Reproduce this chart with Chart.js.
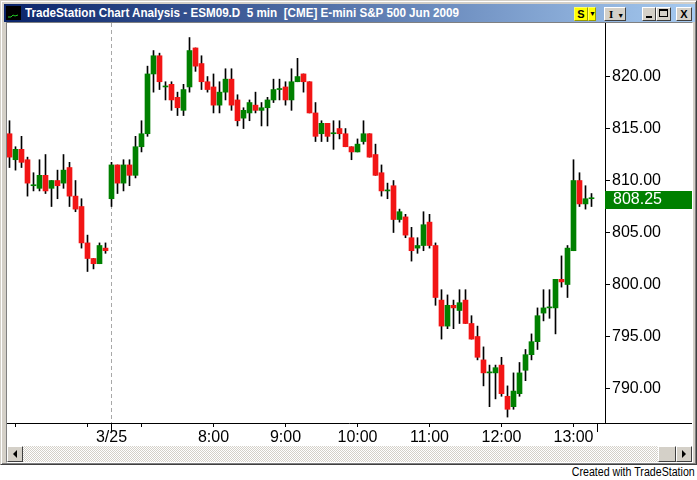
<!DOCTYPE html>
<html>
<head>
<meta charset="utf-8">
<script src="https://cdn.jsdelivr.net/npm/chart.js@4.4.1/dist/chart.umd.min.js"></script>
<style>
html, body { margin: 0; padding: 0; background: #fff; }
body { width: 697px; height: 480px; position: relative; overflow: hidden; font-family: "Liberation Sans", Arial, sans-serif; }
#win { position: absolute; left: 0; top: 0; width: 697px; height: 465px; box-sizing: border-box; background: #d4d0c8;
  border-top: 1px solid #d4d0c8; border-left: 1px solid #d4d0c8; border-right: 1px solid #404040; border-bottom: 1px solid #404040;
  box-shadow: inset 1px 1px 0 #fff, inset -1px -1px 0 #808080; }
#title { position: absolute; left: 3px; top: 3px; width: 691px; height: 18px; background: linear-gradient(to right, #0a246a, #a6caf0); }
#icon { position: absolute; left: 2px; top: 2px; width: 15px; height: 14px; background: #000; }
#ttext { position: absolute; left: 21px; top: 0; line-height: 18px; font-size: 12px; font-weight: bold; color: #fff; white-space: pre; transform-origin: left center; }
.btn { position: absolute; top: 6px; height: 14px; box-sizing: border-box; background: #d4d0c8;
  border-top: 1px solid #fff; border-left: 1px solid #fff; border-right: 1px solid #404040; border-bottom: 1px solid #404040;
  font-size: 11px; font-weight: bold; line-height: 12px; color: #000; text-align: center; }
#client { position: absolute; left: 5px; top: 21px; width: 687px; height: 441px; box-sizing: border-box; background: #fff;
  border-top: 1px solid #808080; border-left: 1px solid #808080; border-right: 1px solid #fff; border-bottom: 1px solid #fff; }
#chart { position: absolute; left: 0; top: 0; }
#scroll { position: absolute; left: 0; top: 423px; width: 685px; height: 16px;
  background-image: repeating-conic-gradient(#d4d0c8 0 25%, #fff 0 50%); background-size: 2px 2px; }
.sb { position: absolute; top: 0; height: 16px; box-sizing: border-box; background: #d4d0c8;
  border-top: 1px solid #fff; border-left: 1px solid #fff; border-right: 1px solid #404040; border-bottom: 1px solid #404040; }
#foot { position: absolute; right: 2px; top: 465px; font-size: 12px; line-height: 14px; color: #000; white-space: pre;
  font-family: "Liberation Sans Narrow", "Liberation Sans", Arial, sans-serif; transform-origin: right center; }
</style>
</head>
<body>
<div id="win">
  <div id="title">
    <div id="icon"><svg width="15" height="14"><polyline points="2,11 5,11 7,9 9,10 12,9" fill="none" stroke="#2c2" stroke-width="1"/></svg></div>
    <div id="ttext">TradeStation Chart Analysis - ESM09.D  5 min  [CME] E-mini S&amp;P 500 Jun 2009</div>
  </div>
  <div class="btn" style="left:573px;width:14px;background:#ffff00;border-color:#ffff66 #999900 #999900 #ffff66;">S</div>
  <div class="btn" style="left:587px;width:8px;background:#ffff00;border-color:#ffff66 #999900 #999900 #ffff66;font-size:7px;">&#9660;</div>
  <div class="btn" style="left:603px;width:22px;text-align:left;padding-left:4px;font-family:'Liberation Serif',serif;">I<span style="font-size:7px;margin-left:4px;">&#9660;</span></div>
  <div class="btn" style="left:641px;width:14px;"><div style="position:absolute;left:3px;top:8px;width:6px;height:2px;background:#000;"></div></div>
  <div class="btn" style="left:655px;width:15px;"><div style="position:absolute;left:2px;top:1px;width:9px;height:8px;box-sizing:border-box;border:1px solid #000;border-top-width:2px;"></div></div>
  <div class="btn" style="left:675px;width:16px;font-size:11px;">X</div>
  <div id="client">
    <canvas id="chart" width="685" height="423"></canvas>
    <div id="scroll">
      <div class="sb" style="left:0;width:16px;"><svg width="14" height="14" style="position:absolute;left:0;top:0"><polygon points="5,7 9,3 9,11" fill="#000"/></svg></div>
      <div class="sb" style="left:651px;width:18px;"></div>
      <div class="sb" style="left:669px;width:16px;"><svg width="14" height="14" style="position:absolute;left:0;top:0"><polygon points="9,7 5,3 5,11" fill="#000"/></svg></div>
    </div>
  </div>
</div>
<div id="foot">Created with TradeStation</div>
<script>
// 5 min bars of ESM09: prior session 11:55-13:15, then 3/25 from 6:35 to 13:15
var opens = [814.5, 812.0, 813.0, 812.0, 809.5, 809.25, 810.5, 809.25, 810.0, 809.75,
  811.25, 808.5, 807.5, 804.0, 802.5, 802.0, 803.5, 808.25, 811.5, 809.75,
  811.5, 810.5, 813.25, 814.5, 820.25, 822.0, 819.0, 819.25, 818.0, 816.75,
  819.0, 822.75, 821.25, 819.5, 819.0, 817.25, 818.5, 819.75, 817.75, 816.0,
  816.5, 817.25, 816.75, 817.0, 817.75, 818.75, 819.0, 817.75, 819.5, 820.25,
  819.5, 816.5, 814.5, 815.5, 814.5, 815.0, 814.5, 813.25, 812.75, 813.75,
  814.5, 812.5, 810.75, 809.0, 809.5, 806.25, 806.5, 804.5, 803.5, 803.75,
  806.0, 803.75, 798.5, 796.0, 798.0, 797.5, 798.5, 796.25, 795.0, 792.75,
  791.5, 791.5, 792.25, 789.25, 788.25, 789.5, 791.75, 793.25, 794.5, 797.25,
  797.75, 797.75, 800.5, 800.0, 803.25, 810.0, 807.75, 808.25];
var highs = [815.75, 813.25, 814.25, 812.25, 810.75, 812.0, 812.5, 810.0, 811.0, 812.5,
  811.75, 810.0, 808.25, 804.75, 802.5, 804.0, 804.0, 811.75, 811.5, 812.0,
  812.0, 814.25, 815.75, 821.0, 822.5, 822.25, 819.5, 819.5, 818.5, 819.25,
  823.75, 822.75, 822.0, 820.0, 820.25, 819.5, 820.75, 820.75, 818.25, 817.0,
  817.75, 818.5, 817.5, 818.0, 819.75, 819.75, 819.5, 820.75, 821.75, 820.25,
  819.5, 817.5, 815.75, 815.5, 815.75, 815.75, 815.0, 813.25, 814.0, 815.75,
  814.5, 813.5, 811.5, 809.75, 810.0, 807.25, 806.75, 805.5, 804.5, 807.0,
  806.75, 804.0, 799.5, 799.0, 798.5, 799.5, 799.5, 797.0, 796.0, 794.0,
  792.25, 792.25, 793.0, 790.25, 791.5, 792.5, 793.75, 795.25, 797.75, 799.5,
  799.5, 800.5, 802.75, 803.75, 812.0, 810.75, 809.5, 808.75];
var lows = [811.25, 811.0, 811.25, 808.5, 809.0, 809.0, 808.75, 807.5, 808.25, 809.25,
  807.5, 807.0, 803.5, 801.25, 801.5, 802.0, 803.0, 807.5, 808.75, 809.0,
  809.5, 810.25, 812.75, 814.25, 818.5, 818.75, 817.75, 816.75, 816.25, 816.25,
  818.5, 820.5, 818.75, 818.5, 816.5, 816.5, 817.75, 816.75, 815.25, 815.0,
  815.75, 816.5, 815.25, 815.25, 817.5, 817.75, 817.25, 816.75, 819.5, 818.5,
  816.5, 813.75, 813.75, 813.75, 813.0, 814.0, 813.25, 812.0, 812.75, 813.5,
  812.25, 810.5, 808.5, 808.25, 805.0, 806.0, 804.5, 802.25, 803.0, 803.25,
  803.5, 798.0, 794.75, 795.75, 795.75, 796.25, 796.25, 794.75, 792.75, 790.25,
  788.25, 789.0, 789.25, 787.25, 788.0, 789.25, 790.75, 792.75, 793.75, 796.5,
  796.75, 795.25, 799.75, 798.75, 803.25, 807.5, 807.25, 807.5];
var closes = [812.25, 813.0, 811.75, 809.75, 809.5, 810.5, 809.0, 810.0, 809.5, 811.0,
  808.5, 807.25, 804.0, 802.5, 802.0, 803.75, 803.25, 811.5, 809.75, 811.5,
  810.5, 813.25, 814.5, 820.25, 822.0, 819.5, 819.0, 817.75, 817.0, 818.75,
  822.5, 821.0, 819.5, 818.75, 817.25, 818.5, 819.75, 817.25, 815.75, 816.75,
  817.5, 816.75, 817.0, 817.75, 818.75, 818.75, 817.75, 819.5, 820.0, 819.5,
  816.5, 814.25, 815.5, 814.25, 814.5, 814.5, 813.25, 812.75, 813.5, 814.5,
  812.25, 810.5, 809.0, 809.0, 806.25, 807.0, 804.75, 803.25, 803.75, 805.75,
  803.75, 798.75, 796.0, 798.0, 797.75, 798.25, 796.25, 794.75, 793.0, 791.5,
  791.5, 792.0, 789.5, 788.0, 789.75, 791.5, 793.25, 794.5, 797.0, 797.75,
  797.75, 800.5, 800.25, 803.5, 810.0, 807.75, 808.25, 808.25];

var timeTicks = [1, 13, 17, 22, 34, 46, 58, 70, 82, 94, 98];
var timeLabels = ['', '', '3/25', '', '8:00', '9:00', '10:00', '11:00', '12:00', '13:00', ''];
var priceTicks = [790, 795, 800, 805, 810, 815, 820];
var lastPrice = 808.25;
var sessionStart = 17;

var UP = '#008000';
var DOWN = '#f21515';

var bodies = [], wicks = [], colors = [];
for (var i = 0; i < opens.length; i++) {
    bodies.push({x: i, y: [opens[i], closes[i]]});
    wicks.push({x: i, y: [lows[i], highs[i]]});
    colors.push(closes[i] >= opens[i] ? UP : DOWN);
}

var axisFont = {family: "'Liberation Sans', Arial, sans-serif", size: 16};

var extras = {
    id: 'extras',
    beforeDatasetsDraw: function(chart) {
        var c = chart.ctx, a = chart.chartArea;
        var x = Math.floor(chart.scales.x.getPixelForValue(sessionStart)) + 0.5;
        c.save();
        c.strokeStyle = '#a8a8a8';
        c.lineWidth = 1;
        c.setLineDash([4, 3]);
        c.beginPath(); c.moveTo(x, a.top); c.lineTo(x, a.bottom); c.stroke();
        c.restore();
    },
    afterDraw: function(chart) {
        var c = chart.ctx, a = chart.chartArea, sx = chart.scales.x, sy = chart.scales.y;
        c.save();
        // time axis line runs under the price axis too
        c.strokeStyle = '#000';
        c.lineWidth = 1;
        c.beginPath(); c.moveTo(0, a.bottom + 0.5); c.lineTo(chart.width, a.bottom + 0.5); c.stroke();
        // longer ticks at the session break and the last slot
        [sessionStart, 98].forEach(function(b) {
            var x = Math.floor(sx.getPixelForValue(b)) + 0.5;
            c.beginPath(); c.moveTo(x, a.bottom); c.lineTo(x, a.bottom + 9); c.stroke();
        });
        // last price marker
        var y = sy.getPixelForValue(lastPrice);
        c.fillStyle = UP;
        c.fillRect(a.right, Math.round(y) - 8, chart.width - a.right, 18);
        c.fillStyle = '#fff';
        c.font = "16px 'Liberation Sans', Arial, sans-serif";
        c.textBaseline = 'middle';
        c.fillText(lastPrice.toFixed(2), a.right + 8, Math.round(y) + 1);
        c.restore();
    }
};

var ctx = document.getElementById('chart');
var chart = new Chart(ctx, {
    type: 'bar',
    data: {
        datasets: [{
            data: bodies,
            backgroundColor: colors,
            barThickness: 5,
            minBarLength: 1,
            grouped: false,
            order: 0
        }, {
            data: wicks,
            backgroundColor: '#000',
            barThickness: 1,
            grouped: false,
            order: 1
        }]
    },
    options: {
        responsive: false,
        animation: false,
        layout: {padding: 0},
        plugins: {
            legend: {display: false},
            tooltip: {enabled: false}
        },
        scales: {
            x: {
                type: 'linear',
                min: -0.41667,
                max: 99.25,
                offset: false,
                afterBuildTicks: function(s) { s.ticks = timeTicks.map(function(v) { return {value: v}; }); },
                afterFit: function(s) { s.height = 23; s.paddingLeft = 0; s.paddingRight = 0; },
                ticks: {
                    autoSkip: false,
                    maxRotation: 0,
                    color: '#000',
                    font: axisFont,
                    padding: 1,
                    callback: function(v) {
                        var j = timeTicks.indexOf(v);
                        return j >= 0 ? timeLabels[j] : '';
                    }
                },
                grid: {display: true, offset: false, drawOnChartArea: false, drawTicks: true, tickLength: 4, tickColor: '#000'},
                border: {display: false}
            },
            y: {
                position: 'right',
                min: 786.68,
                max: 825.15,
                afterBuildTicks: function(s) { s.ticks = priceTicks.map(function(v) { return {value: v}; }); },
                afterFit: function(s) { s.width = 87; s.paddingTop = 0; s.paddingBottom = 0; },
                ticks: {
                    color: '#000',
                    font: axisFont,
                    padding: 2,
                    callback: function(v) { return v.toFixed(2); }
                },
                grid: {drawOnChartArea: false, drawTicks: true, tickLength: 5, tickColor: '#000'},
                border: {display: true, color: '#000', width: 1}
            }
        }
    },
    plugins: [extras]
});

// squeeze the caption texts to the widths of the original window
function fitWidth(el, w) {
    var r = w / el.getBoundingClientRect().width;
    el.style.transform = 'scaleX(' + r + ')';
}
fitWidth(document.getElementById('ttext'), 434);
fitWidth(document.getElementById('foot'), 123);
</script>
</body>
</html>
